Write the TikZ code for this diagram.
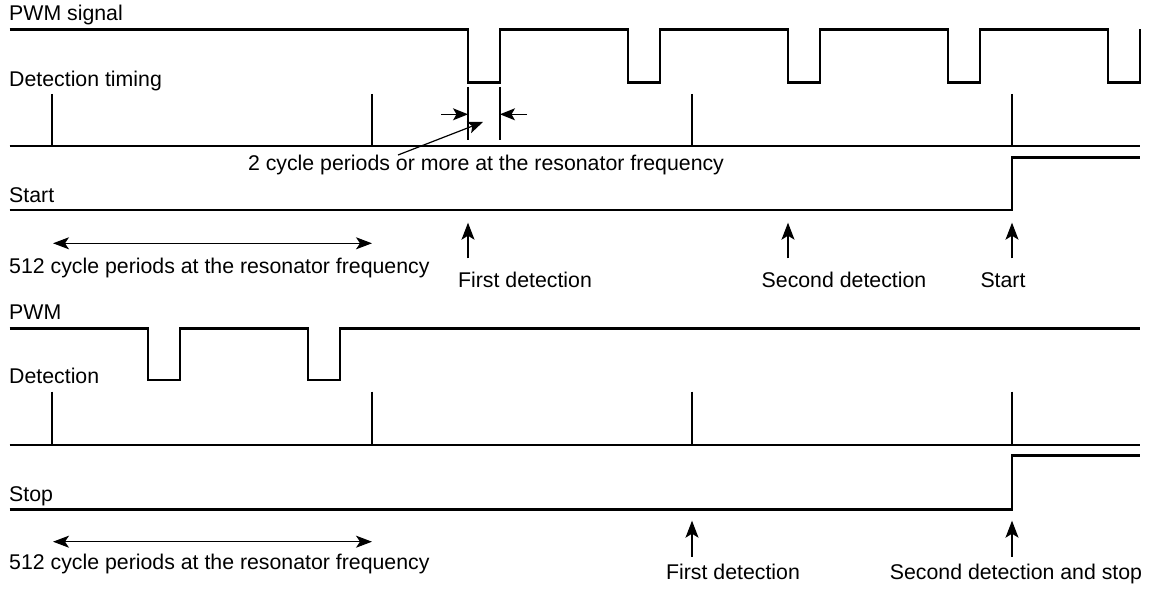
\documentclass[tikz,border=0pt]{standalone}
\usepackage{fontspec}
\setmainfont{Liberation Sans}
\usetikzlibrary{arrows.meta}
\begin{document}
\begin{tikzpicture}[x=1pt,y=-1pt,
  sig/.style={line width=2.6pt, line join=miter},
  tickline/.style={line width=2.2pt},
  thinline/.style={line width=1.2pt},
  txt/.style={inner sep=0pt, font=\fontsize{21.3}{24}\selectfont},
  lbl/.style={txt, anchor=base west},
  ctr/.style={txt, anchor=base},
  uparr/.style={line width=1.2pt, -{Stealth[length=17pt,width=13pt,inset=4pt]}},
  dimarr/.style={line width=1.2pt, -{Stealth[length=15pt,width=12pt,inset=3.5pt]}},
  dbl/.style={line width=1.2pt, {Stealth[length=16pt,width=12pt,inset=4pt]}-{Stealth[length=16pt,width=12pt,inset=4pt]}}]
\useasboundingbox (0,0) rectangle (1149,591);

% ===== Top diagram =====
\node[lbl] (pwmsig) at (9,21) {PWM signal};
\node[lbl] (dettim) at (9,87) {Detection timing};
\draw[sig] (9.5,29.5) -- (468,29.5) -- (468,82.3) -- (500,82.3) -- (500,29.5)
  -- (628,29.5) -- (628,82.3) -- (660,82.3) -- (660,29.5)
  -- (788,29.5) -- (788,82.3) -- (820,82.3) -- (820,29.5)
  -- (948,29.5) -- (948,82.3) -- (980,82.3) -- (980,29.5)
  -- (1108,29.5) -- (1108,82.3) -- (1140,82.3) -- (1140,29.5);
\draw[sig] (9.5,146) -- (1140,146);
\foreach \x in {52,372,692,1012} \draw[tickline] (\x,94) -- (\x,146);
% dimension
\draw[thinline] (468,87) -- (468,140);
\draw[thinline] (500,87) -- (500,140);
\coordinate (dl) at (441,114.3);
\coordinate (dlt) at (468,114.3);
\coordinate (dr) at (527,114.3);
\coordinate (drt) at (500,114.3);
\draw[dimarr] (dl) -- (dlt);
\draw[dimarr] (dr) -- (drt);
\node[ctr] (twocyc) at (486,170.5) {2 cycle periods or more at the resonator frequency};
\coordinate (lead0) at (398,155);
\coordinate (lead1) at (483,122);
\draw[dimarr] (lead0) -- (lead1);

\node[lbl] (start) at (9,202.7) {Start};
\draw[sig] (9.5,210) -- (1012,210) -- (1012,157.7) -- (1140,157.7);
\coordinate (d1a) at (53,243.3);
\coordinate (d1b) at (372,243.3);
\draw[dbl] (d1a) -- (d1b);
\node[lbl] (n512a) at (9,273.5) {512 cycle periods at the resonator frequency};

\node[ctr] (first1) at (525,287) {First detection};
\node[ctr] (second1) at (844,287) {Second detection};
\node[ctr] (start2) at (1003,287) {Start};
\coordinate (a1) at (468,258.3);
\coordinate (a1t) at (468,222.7);
\coordinate (a2) at (788,258.3);
\coordinate (a2t) at (788,222.7);
\coordinate (a3) at (1012,258.3);
\coordinate (a3t) at (1012,222.7);
\draw[uparr] (a1) -- (a1t);
\draw[uparr] (a2) -- (a2t);
\draw[uparr] (a3) -- (a3t);

% ===== Bottom diagram =====
\node[lbl] (pwm) at (9,319.5) {PWM};
\node[lbl] (det) at (9,383) {Detection};
\draw[sig] (9.5,328.3) -- (148,328.3) -- (148,380) -- (180,380) -- (180,328.3)
  -- (308,328.3) -- (308,380) -- (340,380) -- (340,328.3) -- (1140,328.3);
\draw[sig] (9.5,445) -- (1140,445);
\foreach \x in {52,372,692,1012} \draw[tickline] (\x,391.7) -- (\x,445);

\node[lbl] (stop) at (9,501) {Stop};
\draw[sig] (9.5,509.3) -- (1012,509.3) -- (1012,455.7) -- (1140,455.7);
\coordinate (d2a) at (53,541.7);
\coordinate (d2b) at (372,541.7);
\draw[dbl] (d2a) -- (d2b);
\node[lbl] (n512b) at (9,569.5) {512 cycle periods at the resonator frequency};

\node[ctr] (first2) at (733,579.5) {First detection};
\node[ctr] (second2) at (1016,579.5) {Second detection and stop};
\coordinate (b1) at (692,556.7);
\coordinate (b1t) at (692,520.7);
\coordinate (b2) at (1012,556.7);
\coordinate (b2t) at (1012,520.7);
\draw[uparr] (b1) -- (b1t);
\draw[uparr] (b2) -- (b2t);
\end{tikzpicture}
\end{document}
